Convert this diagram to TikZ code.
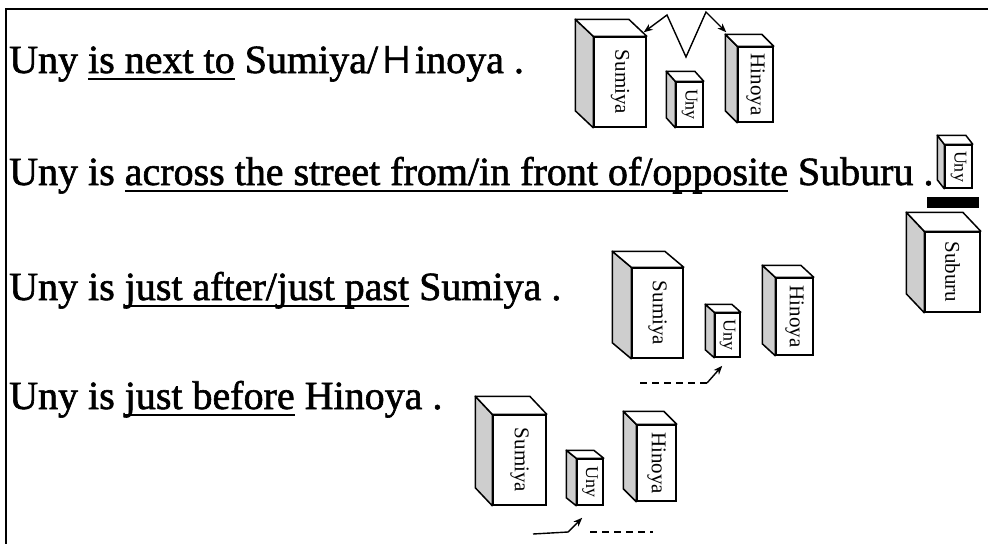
\documentclass[tikz,border=0pt]{standalone}
\usepackage{fontspec}
\setmainfont{Liberation Serif}
\newfontfamily\sentfont{Liberation Serif}[FakeBold=1.5]
\newfontfamily\cjk{Noto Sans CJK JP}
\usepackage{graphicx}
\newcommand{\lineunder}[1]{\setbox0\hbox{#1}\rlap{\rule[-6.5pt]{\wd0}{1.8pt}}\box0{}}
\usetikzlibrary{arrows.meta, calc}
\definecolor{sidegray}{RGB}{206,206,206}

\begin{document}
\begin{tikzpicture}[x=1pt, y=-1pt,
    sentence/.style={anchor=base west, inner sep=0pt, font=\sentfont\fontsize{40}{44}\selectfont},
    front/.style={rectangle, draw, line width=1.5pt, fill=white, inner sep=0pt, font=\fontsize{21}{21}\selectfont},
    frontsm/.style={front, font=\fontsize{18}{18}\selectfont},
    face/.style={draw, line width=1.5pt, line join=round},
    arrow/.style={-{Stealth[length=9pt, width=7pt]}, line width=1.4pt},
    street/.style={dash pattern=on 7pt off 5pt, line width=1.4pt}
]
\useasboundingbox (0,0) rectangle (988,544);
\draw[line width=2pt] (988,9) -- (6,9) -- (6,544);

% sentences
\node[sentence] (next) at (9,73) {Uny \lineunder{is next to} Sumiya/{\cjk\fontsize{37}{37}\selectfont Ｈ}inoya .};
\node[sentence] (across) at (9,185) {Uny is \lineunder{across the street from/in front of/opposite} Suburu .};
\node[sentence] (after) at (9,300) {Uny is \lineunder{just after/just past} Sumiya .};
\node[sentence] (before) at (9,409) {Uny is \lineunder{just before} Hinoya .};

% next to
\node[front, minimum width=52pt, minimum height=90pt] (s1) at (620,82) {\rotatebox{-90}{Sumiya}};
\node[frontsm, minimum width=27pt, minimum height=45pt] (u1) at (689.5,104.5) {\rotatebox{-90}{Uny}};
\node[front, minimum width=35pt, minimum height=75pt] (h1) at (755.5,84.5) {\rotatebox{-90}{Hinoya}};

% across the street
\node[frontsm, minimum width=27pt, minimum height=43pt] (u2) at (958.5,166.5) {\rotatebox{-90}{Uny}};
\node[fill=black, minimum width=52pt, minimum height=11pt, inner sep=0pt] (bar) at (953,202.5) {};
\node[front, minimum width=55pt, minimum height=80pt] (sub) at (952.5,272) {\rotatebox{-90}{Suburu}};

% just after
\node[front, minimum width=51pt, minimum height=90pt] (s3) at (657.5,313) {\rotatebox{-90}{Sumiya}};
\node[frontsm, minimum width=25pt, minimum height=44pt] (u3) at (727.5,335) {\rotatebox{-90}{Uny}};
\node[front, minimum width=37pt, minimum height=77pt] (h3) at (794.5,316.5) {\rotatebox{-90}{Hinoya}};

% just before
\node[front, minimum width=53pt, minimum height=90pt] (s4) at (519.5,460) {\rotatebox{-90}{Sumiya}};
\node[frontsm, minimum width=26pt, minimum height=46pt] (u4) at (590,482) {\rotatebox{-90}{Uny}};
\node[front, minimum width=39pt, minimum height=76pt] (h4) at (656.5,463) {\rotatebox{-90}{Hinoya}};

\foreach \n/\dx/\dy in {s1/18/17, u1/9/10, h1/12/12, u2/7/9, sub/18/19, s3/19/16, u3/9/8, h3/13/12, s4/17/18, u4/10/8, h4/13/13}{
  \draw[face, fill=sidegray] (\n.north west) -- ++(-\dx,-\dy) -- ($(\n.south west)+(-\dx,-\dy)$) -- (\n.south west) -- cycle;
  \draw[face, fill=white] (\n.north west) -- ++(-\dx,-\dy) -- ($(\n.north east)+(-\dx,-\dy)$) -- (\n.north east) -- cycle;
}

% connectors
\coordinate (z1) at (667,15);
\coordinate (z2) at (686,57);
\coordinate (z3) at (706,12);
\draw[arrow, {Stealth[length=9pt, width=7pt]}-{Stealth[length=9pt, width=7pt]}] ($(s1.north east)+(-3,-4)$) -- (z1) -- (z2) -- (z3) -- ($(h1.north west)+(-11,-14)$);

\coordinate (d3) at (640,383);
\coordinate (k3) at (707,383);
\draw[street] (d3) -- (k3);
\draw[arrow] (k3) -- ($(u3.south west)+(8,8)$);

\coordinate (d4) at (533,534);
\coordinate (k4) at (568,532);
\coordinate (e4) at (590,532);
\coordinate (f4) at (653,532);
\draw[line width=1.4pt] (d4) -- (k4);
\draw[arrow] (k4) -- ($(u4.south west)+(6,12)$);
\draw[street] (e4) -- (f4);
\end{tikzpicture}
\end{document}
